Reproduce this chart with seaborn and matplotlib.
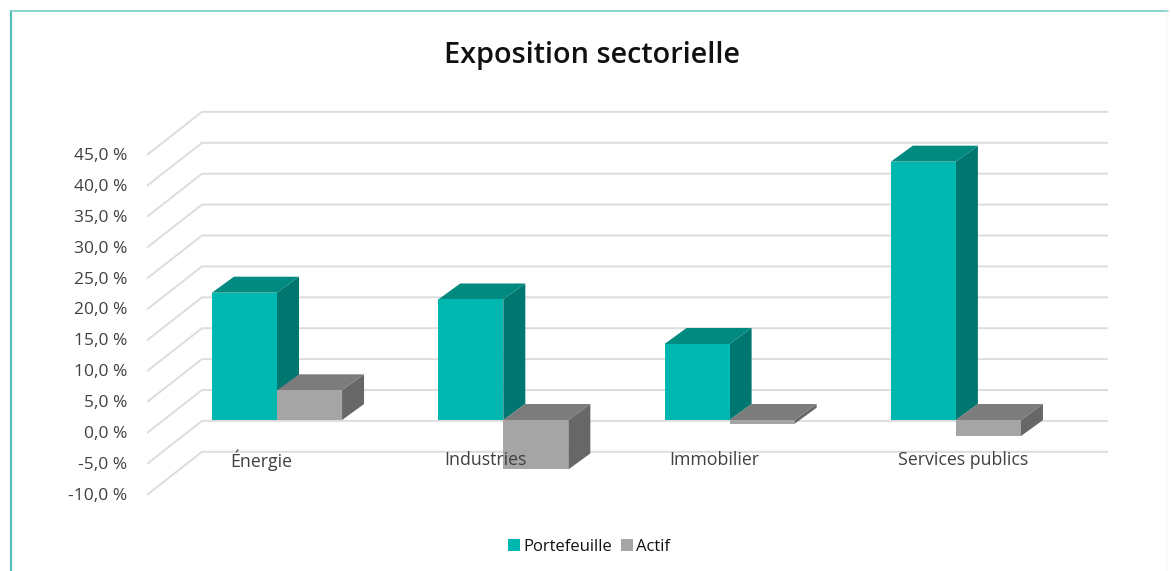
"""
Exposition sectorielle, faux 3D bars with seaborn
"""
import matplotlib.pyplot as plt
from matplotlib.lines import Line2D
from matplotlib.patches import Polygon
import numpy as np
import pandas as pd
import seaborn as sns

categories = ['Énergie', 'Industries', 'Immobilier', 'Services publics']
portefeuille = [20.6, 19.5, 12.3, 41.8]
actif = [4.8, -8.0, -0.6, -2.6]
y_ticks = [-10, -5, 0, 5, 10, 15, 20, 25, 30, 35, 40, 45]
label_x = [-0.07, 0.92, 1.93, 3.03]

df = pd.DataFrame({
    'secteur': categories * 2,
    'valeur': portefeuille + actif,
    'serie': ['Portefeuille'] * 4 + ['Actif'] * 4,
})

W, H = 1171, 571
PX_X = 226.3  # pixels per category
PX_Y = 6.18   # pixels per percent
front = {'Portefeuille': '#00B8B0', 'Actif': '#A5A5A5'}
top_col = {'Portefeuille': '#008A80', 'Actif': '#7C7C7C'}
side_col = {'Portefeuille': '#007670', 'Actif': '#676767'}

sns.set_theme(style='white')
plt.rcParams['font.family'] = ['Open Sans', 'DejaVu Sans']

fig = plt.figure(figsize=(W / 100, H / 100), dpi=100)
ax = fig.add_axes([147 / W, 1 - 500 / H, (1108 - 147) / W, 410 / H])

sns.barplot(data=df, x='secteur', y='valeur', hue='serie', order=categories,
            palette=front, width=0.575, gap=0, dodge=True, saturation=1,
            legend=False, errorbar=None, ax=ax)

ax.set_xlim(-130 / PX_X, (1108 - 277) / PX_X)
ax.set_ylim(-80 / PX_Y, 330 / PX_Y)

# walls: gridlines on the back wall, slanted part on the side wall
wall_dx = 55 / PX_X
wall_dy = 43 / PX_Y
back_shift = 30 / PX_Y
x_left = ax.get_xlim()[0]
x_right = ax.get_xlim()[1]
for v in y_ticks:
    yb = v + back_shift
    ax.plot([x_left, x_left + wall_dx, x_right], [yb - wall_dy, yb, yb],
            color='#DDDDDD', lw=1.4, zorder=1, solid_joinstyle='round')

# depth faces of the bars
dx = 22 / PX_X
dy = 16 / PX_Y
for cont, name, z in zip(ax.containers, ['Portefeuille', 'Actif'], [3, 5]):
    for bar in cont:
        x0 = bar.get_x()
        x1 = x0 + bar.get_width()
        hi = max(bar.get_y(), bar.get_y() + bar.get_height())
        lo = min(bar.get_y(), bar.get_y() + bar.get_height())
        bar.set_zorder(z + 0.5)
        bar.set_edgecolor('none')
        ax.add_patch(Polygon([(x1, lo), (x1, hi), (x1 + dx, hi + dy), (x1 + dx, lo + dy)],
                             fc=side_col[name], ec='none', zorder=z))
        ax.add_patch(Polygon([(x0, hi), (x1, hi), (x1 + dx, hi + dy), (x0 + dx, hi + dy)],
                             fc=top_col[name], ec='none', zorder=z))

sns.despine(ax=ax, left=True, bottom=True)
ax.set_xlabel('')
ax.set_ylabel('')
ax.set_xticks([])
tick_shift = 1.95
ax.set_yticks(np.array(y_ticks) - tick_shift,
              labels=[f'{v:.1f} %'.replace('.', ',') for v in y_ticks])
ax.tick_params(axis='y', length=0, pad=14, labelsize=12.5, labelcolor='#404040')

for x, lab in zip(label_x, categories):
    ax.text(x, -40 / PX_Y, lab, ha='center', va='center', fontsize=12.8,
            color='#404040', zorder=8)

fig.text(592 / W, 1 - 55 / H, 'Exposition sectorielle', ha='center', va='center',
         fontsize=20.8, fontweight=600, color='#111111')

handles = [plt.Rectangle((0, 0), 1, 1, fc=front[k], ec='none') for k in front]
fig.legend(handles, list(front), loc='center', bbox_to_anchor=(589 / W, 1 - 547 / H),
           ncol=2, frameon=False, fontsize=12, handlelength=0.75, handleheight=0.75,
           handletextpad=0.2, columnspacing=0.5, labelcolor='#111111')

# card border
for xs, ys, c, lw in [([10.5, 10.5], [12, 571], '#4FBDB6', 1.5),
                      ([10, 1168], [11, 11], '#6CCAC4', 1.1),
                      ([1166, 1166], [11, 571], '#F6F6F6', 0.8)]:
    fig.add_artist(Line2D(np.array(xs) / W, 1 - np.array(ys) / H, color=c, lw=lw))

fig.savefig('out.png', dpi=100)
